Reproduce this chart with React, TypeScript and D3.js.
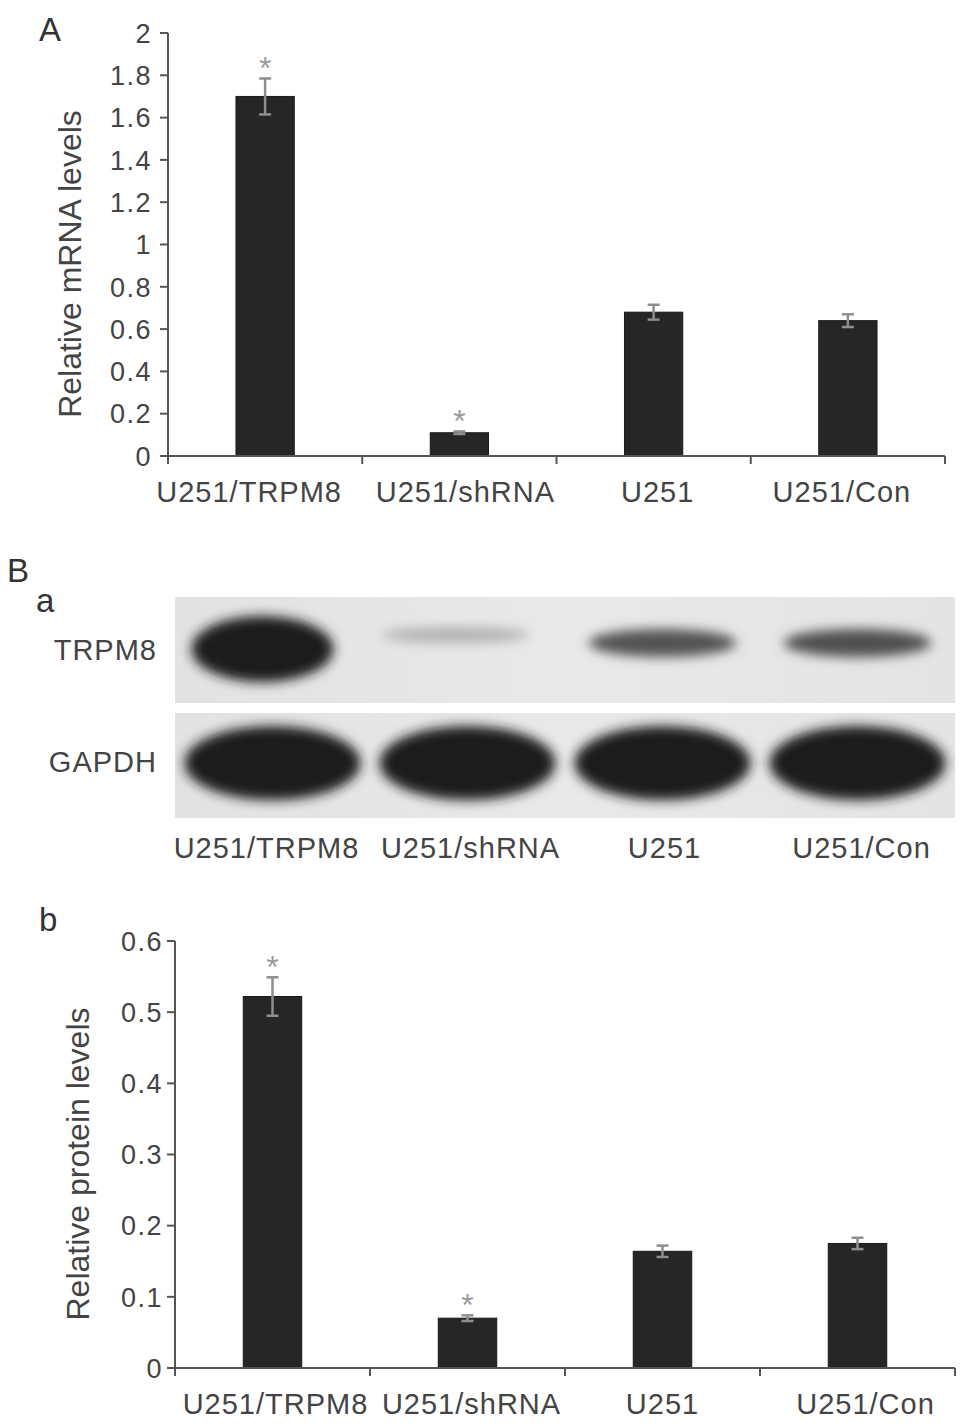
import React from "react";
import * as d3 from "d3";

// groups shared by every panel
const groups = ["U251/TRPM8", "U251/shRNA", "U251", "U251/Con"];

// panel A: relative mRNA
const mrnaMean = [1.7, 0.11, 0.68, 0.64];
const mrnaErr = [0.085, 0.006, 0.035, 0.03];
const mrnaStar = [true, true, false, false];
const mrnaTicks = [0, 0.2, 0.4, 0.6, 0.8, 1, 1.2, 1.4, 1.6, 1.8, 2];

// panel Bb: relative protein
const protMean = [0.522, 0.07, 0.164, 0.175];
const protErr = [0.027, 0.004, 0.008, 0.008];
const protStar = [true, true, false, false];
const protTicks = [0, 0.1, 0.2, 0.3, 0.4, 0.5, 0.6];

// panel Ba: band strength in the blot (0..1) and band height
const trpm8Band = [1.0, 0.25, 0.72, 0.74];
const trpm8Height = [33, 8, 14, 14];
const gapdhBand = [1.0, 1.0, 1.0, 1.0];
const gapdhHeight = [37, 37, 37, 37];

const FONT = "'Liberation Sans', Arial, Helvetica, sans-serif";
const AXIS = "#555";
const TEXT = "#444";
const BAR = "#262626";
const ERR = "#8e8e8e";

type BarProps = {
  top: number;
  bottom: number;
  left: number;
  right: number;
  max: number;
  ticks: number[];
  mean: number[];
  err: number[];
  star: boolean[];
  yLabel: string;
  labelX: number;
  labelY: number;
  shift: number[];
  tickGap: number;
};

function BarPanel(p: BarProps) {
  const x = d3.scaleBand<string>().domain(groups).range([p.left, p.right]);
  const y = d3.scaleLinear().domain([0, p.max]).range([p.bottom, p.top]);
  const bw = x.bandwidth() * 0.3;
  const fmt = (v: number) => (v === 0 ? "0" : String(v));
  const bounds = groups.map((g) => x(g) as number).concat([p.right]);

  return (
    <g fontFamily={FONT}>
      {groups.map((g, i) => {
        const cx = (x(g) as number) + x.bandwidth() / 2;
        const y0 = y(p.mean[i]);
        const yHi = y(p.mean[i] + p.err[i]);
        const yLo = y(p.mean[i] - p.err[i]);
        return (
          <g key={g}>
            <rect x={cx - bw / 2} y={y0} width={bw} height={p.bottom - y0} fill={BAR} stroke="#1a1a1a" strokeWidth={1} />
            <line x1={cx} x2={cx} y1={yHi} y2={yLo} stroke={ERR} strokeWidth={2.5} />
            <line x1={cx - 6} x2={cx + 6} y1={yHi} y2={yHi} stroke={ERR} strokeWidth={2.5} />
            <line x1={cx - 6} x2={cx + 6} y1={yLo} y2={yLo} stroke={ERR} strokeWidth={2.5} />
            {p.star[i] && (
              <text x={cx} y={yHi + 1} textAnchor="middle" fontSize={32} fill="#9a9a9a">
                *
              </text>
            )}
            <text
              x={cx + p.shift[i]}
              y={p.bottom + 46}
              textAnchor="middle"
              fontSize={29}
              letterSpacing={1}
              fill={TEXT}
            >
              {g}
            </text>
          </g>
        );
      })}
      <line x1={p.left} x2={p.left} y1={p.top} y2={p.bottom} stroke={AXIS} strokeWidth={2} />
      <line x1={p.left} x2={p.right} y1={p.bottom} y2={p.bottom} stroke={AXIS} strokeWidth={2} />
      {p.ticks.map((t) => (
        <g key={t}>
          <line x1={p.left - 8} x2={p.left} y1={y(t)} y2={y(t)} stroke={AXIS} strokeWidth={2} />
          <text
            x={p.left - p.tickGap}
            y={y(t)}
            dy="0.36em"
            textAnchor="end"
            fontSize={27}
            letterSpacing={1.5}
            fill={TEXT}
          >
            {fmt(t)}
          </text>
        </g>
      ))}
      {bounds.map((b, i) => (
        <line key={i} x1={b} x2={b} y1={p.bottom} y2={p.bottom + 8} stroke={AXIS} strokeWidth={2} />
      ))}
      <text
        transform={`translate(${p.labelX},${p.labelY}) rotate(-90)`}
        textAnchor="middle"
        fontSize={32}
        fill={TEXT}
      >
        {p.yLabel}
      </text>
    </g>
  );
}

function Blot() {
  const left = 175;
  const right = 955;
  const x = d3.scaleBand<string>().domain(groups).range([left, right]);
  const shade = d3.scaleLinear<string>().domain([0, 1]).range(["#e4e4e4", "#1a1a1a"]);
  const rows = [
    { name: "TRPM8", top: 597, bottom: 703, cy: 643, labelY: 650, band: trpm8Band, h: trpm8Height },
    { name: "GAPDH", top: 713, bottom: 818, cy: 763, labelY: 762, band: gapdhBand, h: gapdhHeight },
  ];
  const labelShift = [-6, 3, 2, 4];
  return (
    <g fontFamily={FONT}>
      <defs>
        <filter id="blur" x="-30%" y="-80%" width="160%" height="260%">
          <feGaussianBlur stdDeviation="6" />
        </filter>
        <linearGradient id="blotbg" x1="0" x2="1" y1="0" y2="0">
          <stop offset="0" stopColor="#e2e2e2" />
          <stop offset="0.5" stopColor="#e9e9e9" />
          <stop offset="1" stopColor="#e4e4e4" />
        </linearGradient>
      </defs>
      {rows.map((r) => (
        <g key={r.name}>
          <rect x={left} y={r.top} width={right - left} height={r.bottom - r.top} fill="url(#blotbg)" />
          {groups.map((g, i) => {
            const cx = (x(g) as number) + x.bandwidth() / 2;
            const first = r.name === "TRPM8" && i === 0;
            const rx = r.name === "GAPDH" ? 88 : first ? 71 : 74;
            return (
              <ellipse
                key={g}
                cx={cx - (first ? 10 : i === 1 && r.name === "TRPM8" ? 12 : 0)}
                cy={r.cy + (first ? 6 : i === 1 && r.name === "TRPM8" ? -8 : 0)}
                rx={rx}
                ry={r.h[i]}
                fill={shade(r.band[i])}
                filter="url(#blur)"
              />
            );
          })}
          <text x={157} y={r.labelY} dy="0.36em" textAnchor="end" fontSize={29} letterSpacing={1} fill={TEXT}>
            {r.name}
          </text>
        </g>
      ))}
      {groups.map((g, i) => (
        <text
          key={g}
          x={(x(g) as number) + x.bandwidth() / 2 + labelShift[i]}
          y={858}
          textAnchor="middle"
          fontSize={29}
          letterSpacing={1}
          fill={TEXT}
        >
          {g}
        </text>
      ))}
    </g>
  );
}

export default function App() {
  return (
    <svg
      width={969}
      height={1428}
      style={{ position: "absolute", left: 0, top: 0, background: "#fff" }}
    >
      <rect width={969} height={1428} fill="#fff" />
      <g fontFamily={FONT} fill="#333" fontSize={33}>
        <text x={39} y={41}>A</text>
        <text x={7} y={582}>B</text>
        <text x={36} y={612}>a</text>
        <text x={39} y={931}>b</text>
      </g>
      <BarPanel
        top={33}
        bottom={456}
        left={168}
        right={945}
        max={2}
        ticks={mrnaTicks}
        mean={mrnaMean}
        err={mrnaErr}
        star={mrnaStar}
        yLabel="Relative mRNA levels"
        labelX={81}
        labelY={264}
        shift={[-16, 6, 4, -6]}
        tickGap={16}
      />
      <Blot />
      <BarPanel
        top={941}
        bottom={1368}
        left={175}
        right={955}
        max={0.6}
        ticks={protTicks}
        mean={protMean}
        err={protErr}
        star={protStar}
        yLabel="Relative protein levels"
        labelX={89}
        labelY={1164}
        shift={[3, 4, 0, 8]}
        tickGap={12}
      />
    </svg>
  );
}
